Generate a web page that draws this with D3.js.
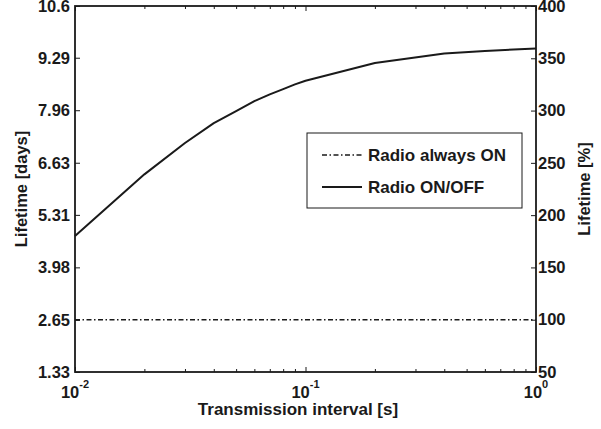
<!DOCTYPE html>
<html>
<head>
<meta charset="utf-8">
<script src="https://cdn.jsdelivr.net/npm/d3@7"></script>
<style>
  body { margin: 0; background: #fff; }
  svg { display: block; font-family: "Liberation Sans", Arial, sans-serif; font-weight: bold; }
</style>
</head>
<body>
<div id="chart"></div>
<script>
// data
const intervals = [0.01, 0.02, 0.03, 0.04, 0.05, 0.06, 0.07, 0.08, 0.09, 0.1, 0.2, 0.4, 0.6, 0.8, 1];
const onOffPct = [180, 239, 269, 288, 299.5, 309, 315.5, 320.5, 325, 328.5, 345.5, 354.5, 357, 358.3, 359.4];
const alwaysOnInterval = [0.01, 1];
const alwaysOnPct = [100, 100];
const daysTicks = [1.33, 2.65, 3.98, 5.31, 6.63, 7.96, 9.29, 10.6];
const pctTicks = [50, 100, 150, 200, 250, 300, 350, 400];
const majorX = [0.01, 0.1, 1];
const majorExp = ['-2', '-1', '0'];
const legendNames = ['Radio always ON', 'Radio ON/OFF'];

const W = 601, H = 429;
const margin = { top: 6, right: 65, bottom: 57, left: 75 };
const width = W - margin.left - margin.right;
const height = H - margin.top - margin.bottom;
const ink = '#1a1a1a';
const dashDot = '5,2.5,1.5,2.5';

const svg = d3.select('#chart').append('svg')
  .attr('width', W).attr('height', H);
const g = svg.append('g').attr('transform', `translate(${margin.left},${margin.top})`);

const x = d3.scaleLog().domain([0.01, 1]).range([0, width]);
const yPct = d3.scaleLinear().domain([50, 400]).range([height, 0]);
const yDays = d3.scaleLinear().domain([1.33, 10.6]).range([height, 0]);

// minor log ticks (2..9 of each decade)
const minorX = [];
[0.01, 0.1].forEach(d => { for (let k = 2; k <= 9; k++) minorX.push(+(d * k).toFixed(3)); });

function styleAxis(sel) {
  sel.select('.domain').remove();
  sel.selectAll('.tick line').attr('stroke', ink).attr('stroke-width', 1);
  sel.selectAll('.tick text').attr('fill', ink).style('font-size', '16.5px').style('font-weight', 'bold');
}

// x ticks: bottom and top, pointing inward
g.append('g').attr('transform', `translate(0,${height})`)
  .call(d3.axisBottom(x).tickValues(minorX).tickSize(-3).tickFormat(''))
  .call(styleAxis);
g.append('g').attr('transform', `translate(0,${height})`)
  .call(d3.axisBottom(x).tickValues(majorX).tickSize(-5).tickFormat(''))
  .call(styleAxis);
g.append('g')
  .call(d3.axisTop(x).tickValues(minorX).tickSize(-3).tickFormat(''))
  .call(styleAxis);
g.append('g')
  .call(d3.axisTop(x).tickValues(majorX).tickSize(-5).tickFormat(''))
  .call(styleAxis);

// x labels as 10^n
const xl = g.append('g').selectAll('text').data(majorX).enter().append('text')
  .attr('x', d => x(d)).attr('y', height + 26)
  .attr('text-anchor', 'middle').attr('fill', ink).style('font-size', '16.5px');
xl.append('tspan').text('10');
xl.append('tspan').attr('dy', -10).style('font-size', '11px').text((d, i) => majorExp[i]);

// left axis (days)
g.append('g')
  .call(d3.axisLeft(yDays).tickValues(daysTicks).tickSize(-5).tickPadding(5).tickFormat(d => String(d)))
  .call(styleAxis);

// right axis (percent)
g.append('g').attr('transform', `translate(${width},0)`)
  .call(d3.axisRight(yPct).tickValues(pctTicks).tickSize(-5).tickPadding(2).tickFormat(d3.format('d')))
  .call(styleAxis);

// box
g.append('rect').attr('width', width).attr('height', height)
  .attr('fill', 'none').attr('stroke', ink).attr('stroke-width', 1.8);

// series
const line = d3.line().x(d => x(d[0])).y(d => yPct(d[1]));
g.append('path')
  .datum(alwaysOnInterval.map((d, i) => [d, alwaysOnPct[i]]))
  .attr('fill', 'none').attr('stroke', ink).attr('stroke-width', 1.5)
  .attr('stroke-dasharray', dashDot).attr('d', line);
g.append('path')
  .datum(intervals.map((d, i) => [d, onOffPct[i]]))
  .attr('fill', 'none').attr('stroke', ink).attr('stroke-width', 2)
  .attr('stroke-linejoin', 'round').attr('d', line);

// axis titles
svg.append('text').attr('x', 298).attr('y', 415)
  .attr('text-anchor', 'middle').attr('fill', ink).style('font-size', '17px')
  .text('Transmission interval [s]');
svg.append('text')
  .attr('transform', `translate(27,${margin.top + height / 2}) rotate(-90)`)
  .attr('text-anchor', 'middle').attr('fill', ink).style('font-size', '16.5px')
  .text('Lifetime [days]');
svg.append('text')
  .attr('transform', `translate(590,${margin.top + height / 2}) rotate(-90)`)
  .attr('text-anchor', 'middle').attr('fill', ink).style('font-size', '16.5px')
  .text('Lifetime [%]');

// legend
const lg = svg.append('g').attr('transform', 'translate(307,133)');
lg.append('rect').attr('width', 215).attr('height', 75)
  .attr('fill', '#fff').attr('stroke', ink).attr('stroke-width', 1);
legendNames.forEach((name, i) => {
  const yy = 22 + i * 32;
  lg.append('line').attr('x1', 15).attr('x2', 55).attr('y1', yy).attr('y2', yy)
    .attr('stroke', ink).attr('stroke-width', i === 0 ? 1.5 : 2)
    .attr('stroke-dasharray', i === 0 ? dashDot : null);
  lg.append('text').attr('x', 61).attr('y', yy + 6).attr('fill', ink)
    .style('font-size', '17px').text(name);
});
</script>
</body>
</html>
